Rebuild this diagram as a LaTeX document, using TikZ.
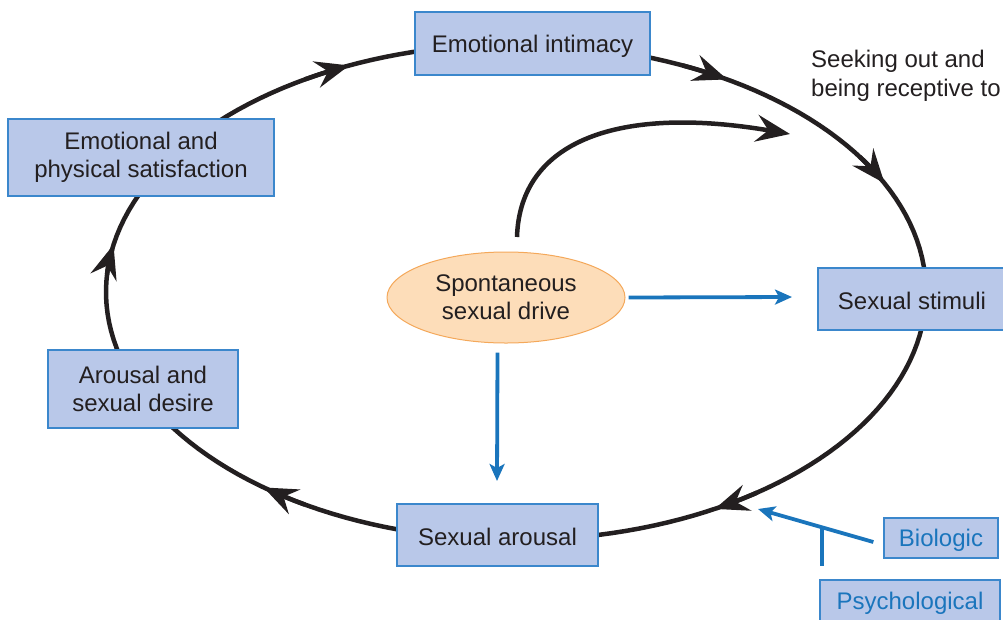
\documentclass[tikz,border=0pt]{standalone}
\usepackage{fontspec}
\setmainfont{Liberation Sans}
\usetikzlibrary{arrows.meta,shapes.geometric}
\definecolor{boxfill}{HTML}{B9C8E9}
\definecolor{boxline}{HTML}{3B87CC}
\definecolor{ellfill}{HTML}{FDDDB9}
\definecolor{ellline}{HTML}{F4A85A}
\definecolor{blueline}{HTML}{1A75BC}
\definecolor{ink}{HTML}{231F20}
\begin{document}
\begin{tikzpicture}[x=1pt,y=-1pt,
  stagebox/.style={draw=boxline, fill=boxfill, line width=1.3pt, text=ink, align=center, inner sep=0pt, font=\fontsize{24}{28}\selectfont, execute at begin node={\rule{0pt}{22pt}}},
  factorbox/.style={stagebox, text=blueline},
  cycleline/.style={line width=4.5pt, draw=ink},
  cyclearrow/.style={cycleline, -{Stealth[length=34pt,width=27pt,inset=12pt]}},
  bluearrow/.style={line width=3.8pt, draw=blueline, -{Stealth[length=17pt,width=15pt,inset=4pt]}},
  plainblue/.style={line width=3.8pt, draw=blueline},
  ]
\useasboundingbox (0,0) rectangle (1003,619);
% main cycle
\draw[cycleline] plot[domain=0:360, samples=180] ({516+410*cos(\x)},{292+248*sin(\x)}) -- cycle;
\foreach \b in {-26, 61, 128, 191, 246, 301}
  \draw[cyclearrow] plot[domain={\b-7}:\b, samples=8] ({516+410*cos(\x)},{292+248*sin(\x)});
% stage boxes
\node[stagebox, minimum width=235pt, minimum height=63pt] (intimacy) at (532.5,43.5) {Emotional intimacy};
\node[stagebox, minimum width=266pt, minimum height=77pt] (satisf) at (141,157.5) {Emotional and\\physical satisfaction};
\node[stagebox, minimum width=190pt, minimum height=78pt] (desire) at (143,389) {Arousal and\\sexual desire};
\node[stagebox, minimum width=201pt, minimum height=62pt] (arousal) at (497.5,535) {Sexual arousal};
\node[stagebox, minimum width=188pt, minimum height=62pt] (stimuli) at (912,299) {Sexual stimuli};
\node[factorbox, minimum width=114pt, minimum height=40pt] (bio) at (941,538) {Biologic};
\node[factorbox, minimum width=180pt, minimum height=42pt] (psych) at (910,601) {Psychological};
% text
\node[anchor=north west, align=left, inner sep=0pt, font=\fontsize{24}{29}\selectfont, text=ink] (seek) at (811,50) {Seeking out and\\being receptive to};
% spontaneous drive
\node[ellipse, draw=ellline, fill=ellfill, line width=1pt, minimum width=238pt, minimum height=91pt, inner sep=0pt, align=center, font=\fontsize{24}{28}\selectfont, text=ink] (drive) at (506,297.5) {Spontaneous\\sexual drive};
% inner arc
\coordinate (arcstart) at (517,237);
\coordinate (arcend) at (790,134);
\draw[cyclearrow] (arcstart) .. controls (520,140) and (620,105) .. (arcend);
% blue arrows
\coordinate (stimin) at (792,297);
\coordinate (arousalin) at (497,481);
\coordinate (cyclein) at (758,509);
\coordinate (tjoin) at (822,528);
\draw[bluearrow] ([xshift=3pt]drive.east) -- (stimin);
\draw[bluearrow] ([yshift=-9pt]drive.south -| arousal.north) -- (arousalin);
\draw[bluearrow] ([shift={(-10pt,-4pt)}]bio.west) -- (cyclein);
\draw[plainblue] (tjoin) -- ([yshift=13pt]psych.north west -| tjoin);
\end{tikzpicture}
\end{document}
